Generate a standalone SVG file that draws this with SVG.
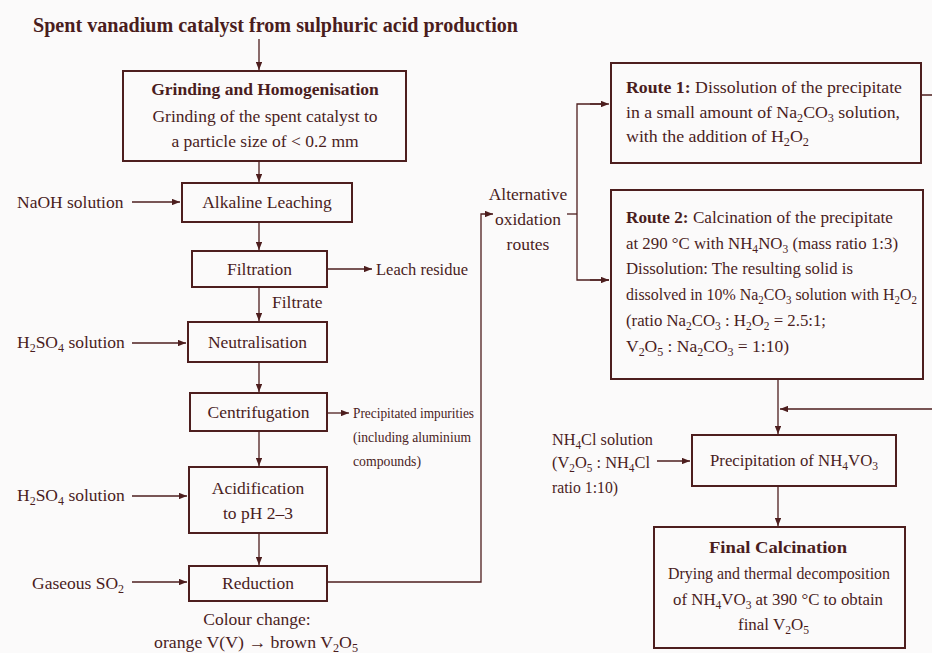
<svg xmlns="http://www.w3.org/2000/svg" width="932" height="653" viewBox="0 0 932 653">
<style>
text { font-family: "Liberation Serif", "Times New Roman", serif; fill: #4a1d1d; font-size: 17.5px; }
.b { font-weight: bold; }
.t { font-size: 20px; font-weight: bold; }
.c { text-anchor: middle; }
.sm { font-size: 15px; }
.s { font-size: 12px; baseline-shift: -4px; }
.box { fill: none; stroke: #4d1e1e; stroke-width: 2; }
.ln { fill: none; stroke: #4d1e1e; stroke-width: 1.3; }
</style>
<defs>
<marker id="ah" viewBox="0 0 10 8" refX="10" refY="4" markerWidth="8" markerHeight="6.5" markerUnits="userSpaceOnUse" orient="auto">
<path d="M0,0 L10,4 L0,8 z" fill="#4d1e1e"/>
</marker>
</defs>
<rect x="0" y="0" width="932" height="653" fill="#fbfafa"/>

<g id="title"><text class="t" x="33" y="32" textLength="485" lengthAdjust="spacingAndGlyphs">Spent vanadium catalyst from sulphuric acid production</text></g>

<g id="grinding">
<rect class="box" x="123" y="71" width="283" height="90"/>
<text class="b c" x="265" y="95" font-size="18">Grinding and Homogenisation</text>
<text class="c" x="265" y="122">Grinding of the spent catalyst to</text>
<text class="c" x="265" y="147">a particle size of &lt; 0.2 mm</text>
</g>

<g id="naoh"><text x="17" y="208">NaOH solution</text></g>
<g id="alkaline">
<rect class="box" x="182" y="183" width="170" height="39"/>
<text class="c" x="267" y="208">Alkaline Leaching</text>
</g>

<g id="filtration">
<rect class="box" x="192" y="251" width="135" height="36"/>
<text class="c" x="259.5" y="275">Filtration</text>
</g>
<g id="leach"><text x="376" y="275" textLength="92" lengthAdjust="spacingAndGlyphs">Leach residue</text></g>
<g id="filtrate"><text x="272" y="308">Filtrate</text></g>

<g id="h2so4a"><text x="17" y="348">H<tspan class="s">2</tspan>SO<tspan class="s">4</tspan> solution</text></g>
<g id="neutralisation">
<rect class="box" x="188" y="322" width="139" height="40"/>
<text class="c" x="257.5" y="348">Neutralisation</text>
</g>

<g id="centrifugation">
<rect class="box" x="190" y="393" width="137" height="38"/>
<text class="c" x="258.5" y="418">Centrifugation</text>
</g>
<g id="impurities">
<text class="sm" x="353" y="418" textLength="121" lengthAdjust="spacingAndGlyphs">Precipitated impurities</text>
<text class="sm" x="353" y="442" textLength="118" lengthAdjust="spacingAndGlyphs">(including aluminium</text>
<text class="sm" x="353" y="466" textLength="68" lengthAdjust="spacingAndGlyphs">compounds)</text>
</g>

<g id="h2so4b"><text x="17" y="501">H<tspan class="s">2</tspan>SO<tspan class="s">4</tspan> solution</text></g>
<g id="acidification">
<rect class="box" x="189" y="467" width="138" height="66"/>
<text class="c" x="258" y="494">Acidification</text>
<text class="c" x="258" y="519">to pH 2–3</text>
</g>

<g id="so2"><text x="32" y="589">Gaseous SO<tspan class="s">2</tspan></text></g>
<g id="reduction">
<rect class="box" x="189" y="566" width="138" height="35"/>
<text class="c" x="258" y="589">Reduction</text>
</g>
<g id="colour">
<text class="c" x="257" y="625">Colour change:</text>
<text x="154" y="648" textLength="204" lengthAdjust="spacingAndGlyphs">orange V(V) → brown V<tspan class="s">2</tspan>O<tspan class="s">5</tspan></text>
</g>

<g id="alternative">
<text class="c" x="528" y="200">Alternative</text>
<text class="c" x="528" y="225">oxidation</text>
<text class="c" x="528" y="250">routes</text>
</g>

<g id="route1">
<rect class="box" x="611" y="63" width="310" height="100"/>
<text x="626" y="93" textLength="276" lengthAdjust="spacingAndGlyphs"><tspan class="b">Route 1:</tspan> Dissolution of the precipitate</text>
<text x="626" y="118" textLength="274" lengthAdjust="spacingAndGlyphs">in a small amount of Na<tspan class="s">2</tspan>CO<tspan class="s">3</tspan> solution,</text>
<text x="626" y="142" textLength="183" lengthAdjust="spacingAndGlyphs">with the addition of H<tspan class="s">2</tspan>O<tspan class="s">2</tspan></text>
</g>

<g id="route2">
<rect class="box" x="611" y="190" width="312" height="189"/>
<text x="626" y="223" textLength="267" lengthAdjust="spacingAndGlyphs"><tspan class="b">Route 2:</tspan> Calcination of the precipitate</text>
<text x="626" y="249" textLength="272" lengthAdjust="spacingAndGlyphs">at 290 °C with NH<tspan class="s">4</tspan>NO<tspan class="s">3</tspan> (mass ratio 1:3)</text>
<text x="626" y="274" textLength="227" lengthAdjust="spacingAndGlyphs">Dissolution: The resulting solid is</text>
<text x="626" y="300" textLength="291" lengthAdjust="spacingAndGlyphs">dissolved in 10% Na<tspan class="s">2</tspan>CO<tspan class="s">3</tspan> solution with H<tspan class="s">2</tspan>O<tspan class="s">2</tspan></text>
<text x="626" y="326" textLength="200" lengthAdjust="spacingAndGlyphs">(ratio Na<tspan class="s">2</tspan>CO<tspan class="s">3</tspan> : H<tspan class="s">2</tspan>O<tspan class="s">2</tspan> = 2.5:1;</text>
<text x="626" y="352" textLength="163" lengthAdjust="spacingAndGlyphs">V<tspan class="s">2</tspan>O<tspan class="s">5</tspan> : Na<tspan class="s">2</tspan>CO<tspan class="s">3</tspan> = 1:10)</text>
</g>

<g id="nh4cl">
<text x="552" y="445" textLength="101" lengthAdjust="spacingAndGlyphs">NH<tspan class="s">4</tspan>Cl solution</text>
<text x="552" y="468" textLength="98" lengthAdjust="spacingAndGlyphs">(V<tspan class="s">2</tspan>O<tspan class="s">5</tspan> : NH<tspan class="s">4</tspan>Cl</text>
<text x="552" y="493" textLength="66" lengthAdjust="spacingAndGlyphs">ratio 1:10)</text>
</g>

<g id="precipitation">
<rect class="box" x="692" y="435" width="204" height="51"/>
<text x="710" y="466" textLength="168" lengthAdjust="spacingAndGlyphs">Precipitation of NH<tspan class="s">4</tspan>VO<tspan class="s">3</tspan></text>
</g>

<g id="final">
<rect class="box" x="654" y="527" width="251" height="121"/>
<text class="b" x="709" y="553" font-size="18" textLength="138" lengthAdjust="spacingAndGlyphs">Final Calcination</text>
<text x="668" y="579" textLength="222" lengthAdjust="spacingAndGlyphs">Drying and thermal decomposition</text>
<text x="673" y="605" textLength="210" lengthAdjust="spacingAndGlyphs">of NH<tspan class="s">4</tspan>VO<tspan class="s">3</tspan> at 390 °C to obtain</text>
<text x="738" y="630" textLength="71" lengthAdjust="spacingAndGlyphs">final V<tspan class="s">2</tspan>O<tspan class="s">5</tspan></text>
</g>

<g id="connectors">
<line class="ln" x1="259" y1="39" x2="259" y2="70" marker-end="url(#ah)"/>
<line class="ln" x1="259" y1="161" x2="259" y2="182" marker-end="url(#ah)"/>
<line class="ln" x1="132" y1="202" x2="180" y2="202" marker-end="url(#ah)"/>
<line class="ln" x1="259" y1="222" x2="259" y2="250" marker-end="url(#ah)"/>
<line class="ln" x1="327" y1="269" x2="372" y2="269" marker-end="url(#ah)"/>
<line class="ln" x1="259" y1="287" x2="259" y2="321" marker-end="url(#ah)"/>
<line class="ln" x1="132" y1="343" x2="186" y2="343" marker-end="url(#ah)"/>
<line class="ln" x1="259" y1="362" x2="259" y2="392" marker-end="url(#ah)"/>
<line class="ln" x1="327" y1="413" x2="349" y2="413" marker-end="url(#ah)"/>
<line class="ln" x1="259" y1="431" x2="259" y2="466" marker-end="url(#ah)"/>
<line class="ln" x1="132" y1="496" x2="187" y2="496" marker-end="url(#ah)"/>
<line class="ln" x1="259" y1="533" x2="259" y2="565" marker-end="url(#ah)"/>
<line class="ln" x1="132" y1="582" x2="187" y2="582" marker-end="url(#ah)"/>
<path class="ln" d="M327,582 H481 V214 H493" marker-end="url(#ah)"/>
<line class="ln" x1="567" y1="214" x2="577" y2="214"/>
<path class="ln" d="M606,104 H577 V280 H609" />
<line class="ln" x1="590" y1="104" x2="609" y2="104" marker-end="url(#ah)"/>
<line class="ln" x1="590" y1="280" x2="609" y2="280" marker-end="url(#ah)"/>
<path class="ln" d="M921,95 H940 V409 H780" marker-end="url(#ah)"/>
<line class="ln" x1="778" y1="379" x2="778" y2="434" marker-end="url(#ah)"/>
<line class="ln" x1="657" y1="461" x2="690" y2="461" marker-end="url(#ah)"/>
<line class="ln" x1="778" y1="486" x2="778" y2="526" marker-end="url(#ah)"/>
</g>
</svg>
